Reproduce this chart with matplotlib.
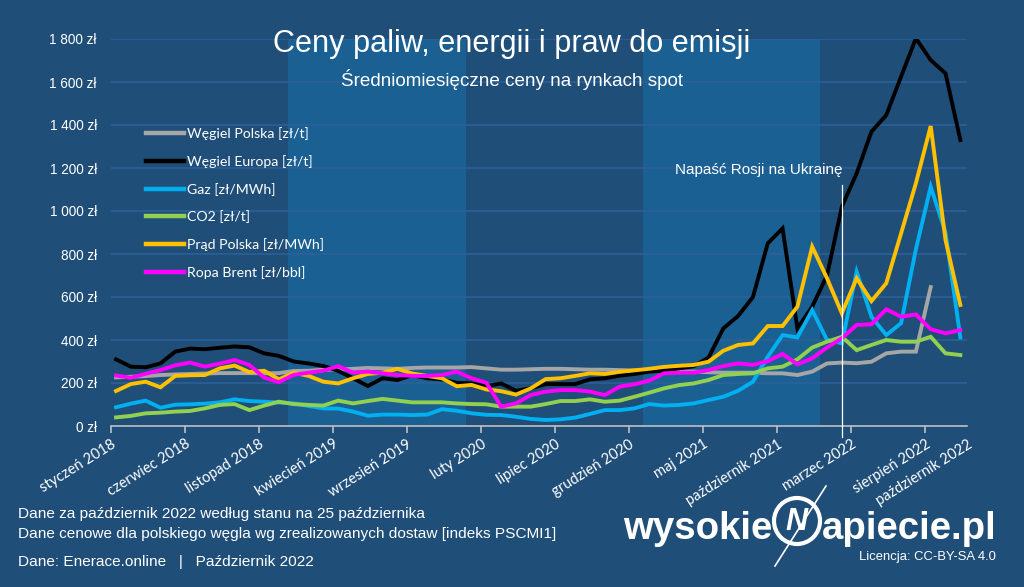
import numpy as np
import matplotlib
matplotlib.use("Agg")
import matplotlib.pyplot as plt
import matplotlib.patches as patches
from matplotlib import font_manager

# monthly averages, styczeń 2018 .. październik 2022
wegiel_pl = [226, 229, 232, 237, 240, 242, 244, 246, 246, 246, 245, 246, 256,
             257, 262, 262, 266, 270, 268, 266, 270, 272, 272, 272, 274, 268,
             262, 262, 264, 266, 266, 264, 262, 262, 260, 258, 256, 254,
             253, 253, 250, 248, 248, 248, 245, 245, 237, 253, 291,
             295, 292, 299, 338, 346, 346, 646]
wegiel_eu = [310, 276, 273, 291, 346, 360, 357, 364, 370, 366, 338, 326, 300,
             291, 279, 256, 222, 186, 222, 214, 237, 222, 217, 201, 198, 185,
             198, 164, 175, 195, 195, 195, 217, 222, 234, 242, 253, 257, 268,
             278, 318, 454, 512, 600, 850, 919, 454, 555, 700,
             1020, 1175, 1369, 1446, 1625, 1803, 1702, 1640, 1330]
gaz = [87, 104, 118, 85, 99, 101, 104, 110, 124, 116, 113, 109, 105,
       93, 82, 81, 67, 48, 53, 53, 51, 53, 78, 71, 59, 52,
       51, 43, 33, 28, 31, 39, 56, 74, 74, 82, 102, 95, 98,
       105, 121, 136, 164, 206, 322, 423, 412, 539, 400,
       385, 718, 508, 423, 478, 822, 1113, 900, 412]
co2 = [40, 47, 59, 62, 67, 70, 82, 98, 102, 74, 95, 113, 102,
       98, 95, 118, 105, 116, 126, 118, 110, 110, 110, 105, 102, 101,
       90, 90, 90, 102, 116, 116, 124, 113, 118, 136, 155, 175, 190,
       198, 214, 237, 242, 245, 268, 276, 310, 365, 392,
       415, 353, 377, 400, 392, 392, 415, 338, 330]
prad = [163, 195, 206, 180, 233, 236, 237, 268, 281, 251, 257, 217, 248,
        233, 206, 198, 222, 242, 248, 266, 244, 233, 222, 185, 191, 170,
        162, 146, 175, 218, 222, 233, 245, 242, 252, 259, 266, 275, 280,
        284, 299, 350, 377, 384, 465, 465, 555, 834, 687,
        524, 687, 581, 664, 896, 1129, 1395, 865, 563]
brent = [235, 224, 243, 260, 282, 295, 276, 290, 307, 284, 225, 204, 238,
         248, 257, 279, 248, 253, 245, 237, 233, 233, 237, 253, 222, 201,
         90, 105, 144, 160, 167, 167, 160, 144, 183, 194, 211, 245, 248,
         248, 260, 279, 291, 284, 302, 335, 287, 315, 365,
         408, 470, 473, 543, 508, 519, 450, 431, 446]

series_names = ["Węgiel Polska [zł/t]", "Węgiel Europa [zł/t]", "Gaz [zł/MWh]",
                "CO2 [zł/t]", "Prąd Polska [zł/MWh]", "Ropa Brent [zł/bbl]"]
series_colors = ["#a6a6a6", "#000000", "#00b0f0", "#92d050", "#ffc000", "#ff00ff"]

tick_months = [0, 5, 10, 15, 20, 25, 30, 35, 40, 45, 50, 55]
tick_labels = ["styczeń 2018", "czerwiec 2018", "listopad 2018", "kwiecień 2019",
               "wrzesień 2019", "luty 2020", "lipiec 2020", "grudzień 2020",
               "maj 2021", "październik 2021", "marzec 2022", "sierpień 2022",
               "październik 2022"]
year_bands = [(11.6, 23.6), (35.6, 47.5)]   # 2019 and 2021
invasion_month = 49

BG = "#1f4e79"
BAND = "#1b6092"
GRID = "#2d609a"

installed = {f.name for f in font_manager.fontManager.ttflist}
if "Liberation Sans Narrow" in installed:
    NARROW, k = "Liberation Sans Narrow", 1.0
else:
    NARROW, k = "Liberation Sans", 0.85
CAL = "Lato"

fig = plt.figure(figsize=(10.24, 5.87), dpi=100)
fig.set_facecolor(BG)
ax = fig.add_axes([110.7 / 1024, 1 - 426 / 587, (967 - 110.7) / 1024, 387 / 587])
ax.set_facecolor(BG)

for a, b in year_bands:
    ax.axvspan(a, b, color=BAND, lw=0, zorder=0)

x = np.arange(len(wegiel_eu))
data = [wegiel_pl, wegiel_eu, gaz, co2, prad, brent]
for vals, name, col in zip(data, series_names, series_colors):
    ax.plot(x[:len(vals)], vals, color=col, lw=2.8, label=name, zorder=3,
            solid_joinstyle="miter")

ax.set_xlim(-0.36, 57.4)
ax.set_ylim(0, 1800)
ax.set_yticks(np.arange(0, 1801, 200))
ax.set_yticklabels([("%d" % v if v < 1000 else "%d %03d" % (v // 1000, v % 1000)) + " zł"
                    for v in range(0, 1801, 200)],
                   fontfamily=NARROW, fontsize=11.5 * k, color="white")
ax.yaxis.grid(True, color=GRID, lw=1.2, zorder=1)
ax.set_axisbelow(True)
ax.tick_params(axis="y", length=0, pad=10)

# the last label sits at the axis end, without its own tick mark
ax.set_xticks([m - 0.36 for m in tick_months] + [57.45])
ax.set_xticklabels(tick_labels, rotation=32, ha="right", va="top",
                   rotation_mode="anchor", fontfamily=CAL, fontsize=10.5, color="white")
ax.tick_params(axis="x", length=5, color="#bfbfbf", width=1.2, pad=3)
ax.xaxis.get_major_ticks()[-1].tick1line.set_visible(False)

for s in ["top", "right", "left"]:
    ax.spines[s].set_visible(False)
ax.spines["bottom"].set_color("#bfbfbf")
ax.spines["bottom"].set_linewidth(1.2)

# invasion marker
ax.plot([invasion_month, invasion_month], [1120, -50], color="white", lw=0.9,
        zorder=4, clip_on=False)
ax.text(invasion_month - 5.6, 1190, "Napaść Rosji na Ukrainę", ha="center", va="center",
        color="white", fontsize=11, family="Liberation Sans")

leg = ax.legend(loc="upper left", bbox_to_anchor=(146 / 1024, 1 - 127 / 587),
                bbox_transform=fig.transFigure, frameon=False, borderpad=0,
                borderaxespad=0, handlelength=2.7, handletextpad=0.2,
                labelspacing=1.05, prop={"family": CAL, "size": 10.2})
for t in leg.get_texts():
    t.set_color("white")
for h in leg.get_lines():
    h.set_linewidth(3.2)

# overlay in pixel coordinates for titles and footer
ov = fig.add_axes([0, 0, 1, 1], zorder=10)
ov.set_xlim(0, 1024)
ov.set_ylim(587, 0)
ov.axis("off")
ov.patch.set_alpha(0)

ov.text(512, 44, "Ceny paliw, energii i praw do emisji", ha="center", va="center",
        color="white", family=NARROW, fontsize=26 * k)
ov.text(512, 80, "Średniomiesięczne ceny na rynkach spot", ha="center", va="center",
        color="white", family=NARROW, fontsize=16 * k)

foot = dict(color="white", family=NARROW, fontsize=13 * k, ha="left", va="center")
ov.text(18, 514, "Dane za październik 2022 według stanu na 25 października", **foot)
ov.text(18, 534, "Dane cenowe dla polskiego węgla wg zrealizowanych dostaw [indeks PSCMI1]", **foot)
ov.text(18, 562, "Dane: Enerace.online   |   Październik 2022", **foot)
ov.text(996, 557, "Licencja: CC-BY-SA 4.0", color="white", family=NARROW,
        fontsize=11 * k, ha="right", va="center")

# logo
logo = dict(color="white", family=NARROW, fontsize=32.5 * k, fontweight="bold", va="baseline")
ov.text(772, 539, "wysokie", ha="right", **logo)
ov.text(822, 539, "apiecie.pl", ha="left", **logo)
ov.add_patch(patches.Circle((797, 521), 23, fill=False, ec="white", lw=3))
ov.text(797, 522, "N", ha="center", va="center", color="white", family=NARROW,
        fontsize=26 * k, fontweight="bold", style="italic")
ov.plot([775, 826], [566, 486], color="white", lw=1.2)

fig.savefig("out.png", dpi=100, facecolor=fig.get_facecolor())
